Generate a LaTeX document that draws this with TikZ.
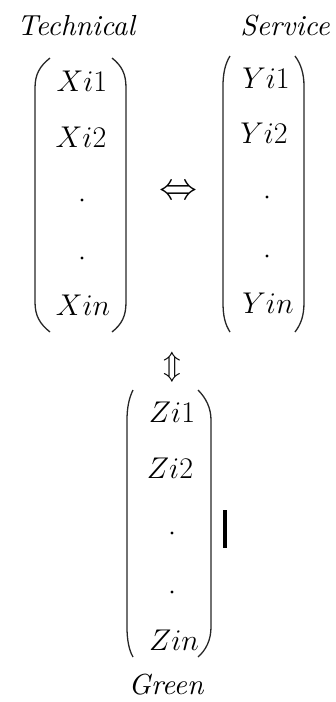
\documentclass[tikz,border=0pt]{standalone}
\usepackage{fix-cm}
\begin{document}
\begin{tikzpicture}[x=1pt,y=-1pt,
  ent/.style={anchor=base,inner sep=0pt,font=\fontsize{30}{30}\selectfont},
  lbl/.style={anchor=base,inner sep=0pt,font=\itshape,scale=2.9,transform shape},
  par/.style={line width=1.3pt,black!85},
  dotm/.style={circle,fill=black,inner sep=0pt,minimum size=3.4pt}]
\useasboundingbox (0,0) rectangle (335,702);
% labels
\node[lbl] (tech) at (76,35) {Technical};
\node[lbl] (serv) at (285,35) {Service};
\node[lbl] (green) at (166,694) {Green};
% left matrix
\draw[par] (50,58) .. controls (40,66) and (35,74) .. (35,88) -- (35,302) .. controls (35,316) and (40,324) .. (50,332);
\draw[par] (112,58) .. controls (122,66) and (126,74) .. (126,88) -- (126,302) .. controls (126,316) and (122,324) .. (112,332);
\node[ent] (x1) at (82,91) {$Xi1$};
\node[ent] (x2) at (81,147) {$Xi2$};
\node[dotm] (xd1) at (82,200) {};
\node[dotm] (xd2) at (82,258) {};
\node[ent] (xn) at (83,315) {$Xin$};
% right matrix
\draw[par] (230,56) .. controls (225,64) and (223,74) .. (223,86) -- (223,302) .. controls (223,316) and (225,324) .. (230,332);
\draw[par] (295,56) .. controls (301,64) and (304,74) .. (304,86) -- (304,302) .. controls (304,316) and (301,324) .. (295,332);
\node[ent] (y1) at (266,88) {$Yi1$};
\node[ent] (y2) at (264,143) {$Yi2$};
\node[dotm] (yd1) at (267,197) {};
\node[dotm] (yd2) at (267,256) {};
\node[ent] (yn) at (268,313) {$Yin$};
% bottom matrix
\draw[par] (133,390) .. controls (129,398) and (127,408) .. (127,420) -- (127,627) .. controls (127,640) and (129,650) .. (133,657);
\draw[par] (198,390) .. controls (206,398) and (211,408) .. (211,420) -- (211,627) .. controls (211,640) and (206,650) .. (198,657);
\node[ent] (z1) at (172,422) {$Zi1$};
\node[ent] (z2) at (170,478) {$Zi2$};
\node[dotm] (zd1) at (172,533) {};
\node[dotm] (zd2) at (172,592) {};
\node[ent] (zn) at (174,650) {$Zin$};
% arrows
\node[inner sep=0pt,font=\fontsize{38}{38}\selectfont] (lr) at (178,193) {$\Leftrightarrow$};
\node[inner sep=0pt,font=\fontsize{29}{29}\selectfont] (ud) at (172,367) {$\Updownarrow$};
% bar
\fill (223,510) rectangle (227,548);
\end{tikzpicture}
\end{document}
